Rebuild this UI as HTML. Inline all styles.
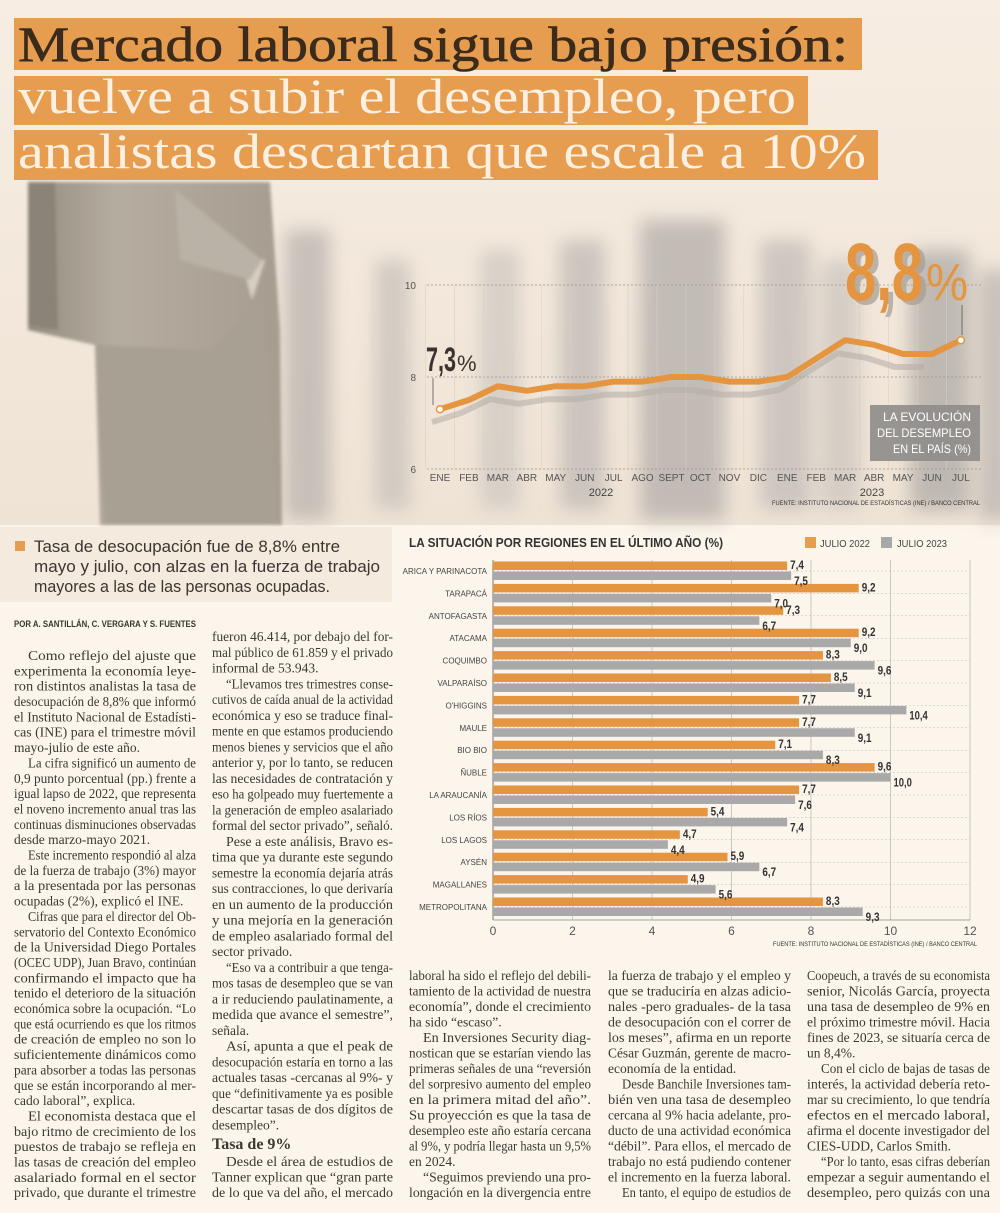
<!DOCTYPE html>
<html><head><meta charset="utf-8"><style>
html,body{margin:0;padding:0;background:#fbf5ec;}
svg{display:block;}
.b{font-family:"Liberation Serif",serif;font-size:13.5px;fill:#3d3833;}
.n{font-family:"Liberation Sans Narrow","Liberation Sans",sans-serif;}
</style></head><body>
<svg id="page" width="1000" height="1213" viewBox="0 0 1000 1213" xmlns="http://www.w3.org/2000/svg">
<defs>
<filter id="blur" x="-20%" y="-20%" width="140%" height="140%"><feGaussianBlur stdDeviation="9"/></filter>
<filter id="soft" x="-5%" y="-5%" width="110%" height="110%"><feGaussianBlur stdDeviation="1.5"/></filter>
<linearGradient id="bg" x1="0" y1="0" x2="0" y2="1"><stop offset="0" stop-color="#f7ede2"/><stop offset="1" stop-color="#efe3d5"/></linearGradient>
<linearGradient id="suit" x1="0" y1="0" x2="1" y2="0"><stop offset="0" stop-color="#948c80"/><stop offset="0.35" stop-color="#b5ad9f"/><stop offset="1" stop-color="#a69d90"/></linearGradient>
</defs>
<g>
<rect x="0" y="0" width="1000" height="525" fill="url(#bg)"/>
<g filter="url(#blur)" opacity="0.75">
<rect x="285" y="230" width="45" height="290" fill="#b9b3ae"/>
<rect x="375" y="260" width="35" height="250" fill="#c8c2bc"/>
<rect x="480" y="250" width="40" height="260" fill="#cfc9c3"/>
<rect x="560" y="240" width="45" height="270" fill="#bfbab5"/>
<rect x="640" y="220" width="85" height="300" fill="#b3aeaa"/>
<rect x="760" y="240" width="50" height="270" fill="#c1bcb7"/>
<rect x="820" y="260" width="40" height="250" fill="#ccc6c0"/>
<rect x="910" y="250" width="60" height="260" fill="#aeaaa6"/>
<rect x="980" y="270" width="30" height="250" fill="#b7b2ad"/>
</g>
<g filter="url(#soft)">
<path d="M28 182 L270 182 L280 330 L282 525 L100 525 L95 345 L28 330 Z" fill="url(#suit)"/>
<path d="M28 182 L55 182 L58 330 L28 325 Z" fill="#8a8377"/>
<path d="M95 345 L210 350 L230 330 L262 300 L278 525 L105 525 Z" fill="#a8a093"/>
<path d="M240 255 L265 260 L252 300 Z" fill="#d8cfc2"/>
<path d="M175 190 L262 260 L250 280 L180 260 Z" fill="#b9b2a6"/>
</g>
</g>
<g font-family="Liberation Serif, serif" font-size="50">
<rect x="14" y="18" width="848" height="52" fill="#e79d4f"/>
<rect x="14" y="76" width="794" height="49" fill="#e79d4f"/>
<rect x="14" y="130" width="864" height="50" fill="#e79d4f"/>
<text x="18" y="61" textLength="830" lengthAdjust="spacingAndGlyphs" fill="#3b2b1c" stroke="#3b2b1c" stroke-width="0.6">Mercado laboral sigue bajo presión:</text>
<text x="18" y="113" textLength="778" lengthAdjust="spacingAndGlyphs" fill="#fbf0e2">vuelve a subir el desempleo, pero</text>
<text x="18" y="168" textLength="848" lengthAdjust="spacingAndGlyphs" fill="#fbf0e2">analistas descartan que escale a 10%</text>
</g>
<g id="lineChart">
<g id="lcGrid"></g>
<g id="lcLines"></g>
<g id="lcLabels" class="n" font-size="10" fill="#555"></g>
<text x="601" y="496" class="n" font-size="11" fill="#444" text-anchor="middle">2022</text>
<text x="872" y="496" class="n" font-size="11" fill="#444" text-anchor="middle">2023</text>
<text x="980" y="505" class="n" font-size="6" fill="#333" text-anchor="end" textLength="208" lengthAdjust="spacingAndGlyphs">FUENTE: INSTITUTO NACIONAL DE ESTADÍSTICAS (INE) / BANCO CENTRAL</text>
<g>
<text x="426" y="371" class="n" font-size="34" font-weight="bold" fill="#3a3330" textLength="30" lengthAdjust="spacingAndGlyphs">7,3</text>
<text x="457" y="371" class="n" font-size="22" fill="#3a3330">%</text>
<line x1="433" y1="378" x2="433" y2="405" stroke="#555" stroke-width="0.8"/>
</g>
<g>
<text x="850" y="304" class="n" font-size="82" font-weight="bold" fill="#a59d93" opacity="0.7" textLength="78" lengthAdjust="spacingAndGlyphs">8,8</text>
<text x="845" y="300" class="n" font-size="82" font-weight="bold" fill="#e5953f" textLength="78" lengthAdjust="spacingAndGlyphs">8,8</text>
<text x="926" y="300" class="n" font-size="52" fill="#e5953f" textLength="42" lengthAdjust="spacingAndGlyphs">%</text>
<line x1="962" y1="305" x2="962" y2="335" stroke="#555" stroke-width="0.8"/>
</g>
<g>
<rect x="870" y="405" width="110" height="56" fill="#8e8c8a" opacity="0.9"/>
<text x="971" y="421" class="n" font-size="12" fill="#fff" text-anchor="end" textLength="88" lengthAdjust="spacingAndGlyphs">LA EVOLUCIÓN</text>
<text x="971" y="437" class="n" font-size="12" fill="#fff" text-anchor="end" textLength="94" lengthAdjust="spacingAndGlyphs">DEL DESEMPLEO</text>
<text x="971" y="453" class="n" font-size="12" fill="#fff" text-anchor="end" textLength="78" lengthAdjust="spacingAndGlyphs">EN EL PAÍS (%)</text>
</g>
</g>
<g>
<rect x="0" y="527" width="392" height="75" fill="#f4eadd"/>
<rect x="15" y="541" width="10" height="10" fill="#e79d4f"/>
<g font-family="Liberation Sans, sans-serif" font-size="16.5" fill="#3b3632">
<text x="34" y="552" textLength="306" lengthAdjust="spacingAndGlyphs">Tasa de desocupación fue de 8,8% entre</text>
<text x="34" y="572" textLength="346" lengthAdjust="spacingAndGlyphs">mayo y julio, con alzas en la fuerza de trabajo</text>
<text x="34" y="592" textLength="296" lengthAdjust="spacingAndGlyphs">mayores a las de las personas ocupadas.</text>
</g>
</g>
<text x="14" y="627" class="n" font-size="9" font-weight="bold" fill="#3b3632" textLength="182" lengthAdjust="spacingAndGlyphs">POR A. SANTILLÁN, C. VERGARA Y S. FUENTES</text>
<g id="barChart">
<text x="409" y="547" class="n" font-size="12.5" font-weight="bold" fill="#333" textLength="314" lengthAdjust="spacingAndGlyphs">LA SITUACIÓN POR REGIONES EN EL ÚLTIMO AÑO (%)</text>
<g><rect x="805" y="537" width="11" height="11" fill="#e79d4f"/><text x="820" y="547" class="n" font-size="10.5" fill="#444" textLength="50" lengthAdjust="spacingAndGlyphs">JULIO 2022</text></g>
<g><rect x="881" y="537" width="11" height="11" fill="#a8a8a8"/><text x="897" y="547" class="n" font-size="10.5" fill="#444" textLength="50" lengthAdjust="spacingAndGlyphs">JULIO 2023</text></g>
<g id="bcGrid"></g>
<g id="bcBars"></g>
<g id="bcLabels"></g>
<text x="977" y="946" class="n" font-size="6" fill="#333" text-anchor="end" textLength="204" lengthAdjust="spacingAndGlyphs">FUENTE: INSTITUTO NACIONAL DE ESTADÍSTICAS (INE) / BANCO CENTRAL</text>
</g>
<g class="b">
<text x="28" y="660" textLength="168" lengthAdjust="spacingAndGlyphs">Como reflejo del ajuste que</text>
<text x="14" y="675.3" textLength="182" lengthAdjust="spacingAndGlyphs">experimenta la economía leye-</text>
<text x="14" y="690.7" textLength="182" lengthAdjust="spacingAndGlyphs">ron distintos analistas la tasa de</text>
<text x="14" y="706" textLength="182" lengthAdjust="spacingAndGlyphs">desocupación de 8,8% que informó</text>
<text x="14" y="721.4" textLength="182" lengthAdjust="spacingAndGlyphs">el Instituto Nacional de Estadísti-</text>
<text x="14" y="736.7" textLength="182" lengthAdjust="spacingAndGlyphs">cas (INE) para el trimestre móvil</text>
<text x="14" y="752.1">mayo-julio de este año.</text>
<text x="28" y="767.4" textLength="168" lengthAdjust="spacingAndGlyphs">La cifra significó un aumento de</text>
<text x="14" y="782.8" textLength="182" lengthAdjust="spacingAndGlyphs">0,9 punto porcentual (pp.) frente a</text>
<text x="14" y="798.1" textLength="182" lengthAdjust="spacingAndGlyphs">igual lapso de 2022, que representa</text>
<text x="14" y="813.5" textLength="182" lengthAdjust="spacingAndGlyphs">el noveno incremento anual tras las</text>
<text x="14" y="828.8" textLength="182" lengthAdjust="spacingAndGlyphs">continuas disminuciones observadas</text>
<text x="14" y="844.2">desde marzo-mayo 2021.</text>
<text x="28" y="859.5" textLength="168" lengthAdjust="spacingAndGlyphs">Este incremento respondió al alza</text>
<text x="14" y="874.9" textLength="182" lengthAdjust="spacingAndGlyphs">de la fuerza de trabajo (3%) mayor</text>
<text x="14" y="890.2" textLength="182" lengthAdjust="spacingAndGlyphs">a la presentada por las personas</text>
<text x="14" y="905.6">ocupadas (2%), explicó el INE.</text>
<text x="28" y="920.9" textLength="168" lengthAdjust="spacingAndGlyphs">Cifras que para el director del Ob-</text>
<text x="14" y="936.3" textLength="182" lengthAdjust="spacingAndGlyphs">servatorio del Contexto Económico</text>
<text x="14" y="951.6" textLength="182" lengthAdjust="spacingAndGlyphs">de la Universidad Diego Portales</text>
<text x="14" y="967" textLength="182" lengthAdjust="spacingAndGlyphs">(OCEC UDP), Juan Bravo, continúan</text>
<text x="14" y="982.3" textLength="182" lengthAdjust="spacingAndGlyphs">confirmando el impacto que ha</text>
<text x="14" y="997.7" textLength="182" lengthAdjust="spacingAndGlyphs">tenido el deterioro de la situación</text>
<text x="14" y="1013" textLength="182" lengthAdjust="spacingAndGlyphs">económica sobre la ocupación. “Lo</text>
<text x="14" y="1028.4" textLength="182" lengthAdjust="spacingAndGlyphs">que está ocurriendo es que los ritmos</text>
<text x="14" y="1043.7" textLength="182" lengthAdjust="spacingAndGlyphs">de creación de empleo no son lo</text>
<text x="14" y="1059.1" textLength="182" lengthAdjust="spacingAndGlyphs">suficientemente dinámicos como</text>
<text x="14" y="1074.4" textLength="182" lengthAdjust="spacingAndGlyphs">para absorber a todas las personas</text>
<text x="14" y="1089.8" textLength="182" lengthAdjust="spacingAndGlyphs">que se están incorporando al mer-</text>
<text x="14" y="1105.1">cado laboral”, explica.</text>
<text x="28" y="1120.5" textLength="168" lengthAdjust="spacingAndGlyphs">El economista destaca que el</text>
<text x="14" y="1135.8" textLength="182" lengthAdjust="spacingAndGlyphs">bajo ritmo de crecimiento de los</text>
<text x="14" y="1151.2" textLength="182" lengthAdjust="spacingAndGlyphs">puestos de trabajo se refleja en</text>
<text x="14" y="1166.5" textLength="182" lengthAdjust="spacingAndGlyphs">las tasas de creación del empleo</text>
<text x="14" y="1181.9" textLength="182" lengthAdjust="spacingAndGlyphs">asalariado formal en el sector</text>
<text x="14" y="1197.2" textLength="182" lengthAdjust="spacingAndGlyphs">privado, que durante el trimestre</text>
</g>
<g class="b">
<text x="212" y="641" textLength="181" lengthAdjust="spacingAndGlyphs">fueron 46.414, por debajo del for-</text>
<text x="212" y="656.8" textLength="181" lengthAdjust="spacingAndGlyphs">mal público de 61.859 y el privado</text>
<text x="212" y="672.5">informal de 53.943.</text>
<text x="226" y="688.3" textLength="167" lengthAdjust="spacingAndGlyphs">“Llevamos tres trimestres conse-</text>
<text x="212" y="704" textLength="181" lengthAdjust="spacingAndGlyphs">cutivos de caída anual de la actividad</text>
<text x="212" y="719.8" textLength="181" lengthAdjust="spacingAndGlyphs">económica y eso se traduce final-</text>
<text x="212" y="735.5" textLength="181" lengthAdjust="spacingAndGlyphs">mente en que estamos produciendo</text>
<text x="212" y="751.3" textLength="181" lengthAdjust="spacingAndGlyphs">menos bienes y servicios que el año</text>
<text x="212" y="767" textLength="181" lengthAdjust="spacingAndGlyphs">anterior y, por lo tanto, se reducen</text>
<text x="212" y="782.8" textLength="181" lengthAdjust="spacingAndGlyphs">las necesidades de contratación y</text>
<text x="212" y="798.5" textLength="181" lengthAdjust="spacingAndGlyphs">eso ha golpeado muy fuertemente a</text>
<text x="212" y="814.3" textLength="181" lengthAdjust="spacingAndGlyphs">la generación de empleo asalariado</text>
<text x="212" y="830" textLength="181" lengthAdjust="spacingAndGlyphs">formal del sector privado”, señaló.</text>
<text x="226" y="845.8" textLength="167" lengthAdjust="spacingAndGlyphs">Pese a este análisis, Bravo es-</text>
<text x="212" y="861.5" textLength="181" lengthAdjust="spacingAndGlyphs">tima que ya durante este segundo</text>
<text x="212" y="877.3" textLength="181" lengthAdjust="spacingAndGlyphs">semestre la economía dejaría atrás</text>
<text x="212" y="893" textLength="181" lengthAdjust="spacingAndGlyphs">sus contracciones, lo que derivaría</text>
<text x="212" y="908.8" textLength="181" lengthAdjust="spacingAndGlyphs">en un aumento de la producción</text>
<text x="212" y="924.5" textLength="181" lengthAdjust="spacingAndGlyphs">y una mejoría en la generación</text>
<text x="212" y="940.3" textLength="181" lengthAdjust="spacingAndGlyphs">de empleo asalariado formal del</text>
<text x="212" y="956">sector privado.</text>
<text x="226" y="971.8" textLength="167" lengthAdjust="spacingAndGlyphs">“Eso va a contribuir a que tenga-</text>
<text x="212" y="987.5" textLength="181" lengthAdjust="spacingAndGlyphs">mos tasas de desempleo que se van</text>
<text x="212" y="1003.3" textLength="181" lengthAdjust="spacingAndGlyphs">a ir reduciendo paulatinamente, a</text>
<text x="212" y="1019" textLength="181" lengthAdjust="spacingAndGlyphs">medida que avance el semestre”,</text>
<text x="212" y="1034.8">señala.</text>
<text x="226" y="1050.5" textLength="167" lengthAdjust="spacingAndGlyphs">Así, apunta a que el peak de</text>
<text x="212" y="1066.3" textLength="181" lengthAdjust="spacingAndGlyphs">desocupación estaría en torno a las</text>
<text x="212" y="1082" textLength="181" lengthAdjust="spacingAndGlyphs">actuales tasas -cercanas al 9%- y</text>
<text x="212" y="1097.8" textLength="181" lengthAdjust="spacingAndGlyphs">que “definitivamente ya es posible</text>
<text x="212" y="1113.5" textLength="181" lengthAdjust="spacingAndGlyphs">descartar tasas de dos dígitos de</text>
<text x="212" y="1129.3">desempleo”.</text>
<text x="212" y="1149" font-size="16" font-weight="bold">Tasa de 9%</text>
<text x="226" y="1166" textLength="167" lengthAdjust="spacingAndGlyphs">Desde el área de estudios de</text>
<text x="212" y="1181.5" textLength="181" lengthAdjust="spacingAndGlyphs">Tanner explican que “gran parte</text>
<text x="212" y="1197" textLength="181" lengthAdjust="spacingAndGlyphs">de lo que va del año, el mercado</text>
</g>
<g class="b">
<text x="409" y="980" textLength="182" lengthAdjust="spacingAndGlyphs">laboral ha sido el reflejo del debili-</text>
<text x="409" y="995.5" textLength="182" lengthAdjust="spacingAndGlyphs">tamiento de la actividad de nuestra</text>
<text x="409" y="1011" textLength="182" lengthAdjust="spacingAndGlyphs">economía”, donde el crecimiento</text>
<text x="409" y="1026.5">ha sido “escaso”.</text>
<text x="423" y="1042" textLength="168" lengthAdjust="spacingAndGlyphs">En Inversiones Security diag-</text>
<text x="409" y="1057.5" textLength="182" lengthAdjust="spacingAndGlyphs">nostican que se estarían viendo las</text>
<text x="409" y="1073" textLength="182" lengthAdjust="spacingAndGlyphs">primeras señales de una “reversión</text>
<text x="409" y="1088.5" textLength="182" lengthAdjust="spacingAndGlyphs">del sorpresivo aumento del empleo</text>
<text x="409" y="1104" textLength="182" lengthAdjust="spacingAndGlyphs">en la primera mitad del año”.</text>
<text x="409" y="1119.5" textLength="182" lengthAdjust="spacingAndGlyphs">Su proyección es que la tasa de</text>
<text x="409" y="1135" textLength="182" lengthAdjust="spacingAndGlyphs">desempleo este año estaría cercana</text>
<text x="409" y="1150.5" textLength="182" lengthAdjust="spacingAndGlyphs">al 9%, y podría llegar hasta un 9,5%</text>
<text x="409" y="1166">en 2024.</text>
<text x="423" y="1181.5" textLength="168" lengthAdjust="spacingAndGlyphs">“Seguimos previendo una pro-</text>
<text x="409" y="1197" textLength="182" lengthAdjust="spacingAndGlyphs">longación en la divergencia entre</text>
</g>
<g class="b">
<text x="608" y="980" textLength="183" lengthAdjust="spacingAndGlyphs">la fuerza de trabajo y el empleo y</text>
<text x="608" y="995.5" textLength="183" lengthAdjust="spacingAndGlyphs">que se traduciría en alzas adicio-</text>
<text x="608" y="1011" textLength="183" lengthAdjust="spacingAndGlyphs">nales -pero graduales- de la tasa</text>
<text x="608" y="1026.5" textLength="183" lengthAdjust="spacingAndGlyphs">de desocupación con el correr de</text>
<text x="608" y="1042" textLength="183" lengthAdjust="spacingAndGlyphs">los meses”, afirma en un reporte</text>
<text x="608" y="1057.5" textLength="183" lengthAdjust="spacingAndGlyphs">César Guzmán, gerente de macro-</text>
<text x="608" y="1073">economía de la entidad.</text>
<text x="622" y="1088.5" textLength="169" lengthAdjust="spacingAndGlyphs">Desde Banchile Inversiones tam-</text>
<text x="608" y="1104" textLength="183" lengthAdjust="spacingAndGlyphs">bién ven una tasa de desempleo</text>
<text x="608" y="1119.5" textLength="183" lengthAdjust="spacingAndGlyphs">cercana al 9% hacia adelante, pro-</text>
<text x="608" y="1135" textLength="183" lengthAdjust="spacingAndGlyphs">ducto de una actividad económica</text>
<text x="608" y="1150.5" textLength="183" lengthAdjust="spacingAndGlyphs">“débil”. Para ellos, el mercado de</text>
<text x="608" y="1166" textLength="183" lengthAdjust="spacingAndGlyphs">trabajo no está pudiendo contener</text>
<text x="608" y="1181.5" textLength="183" lengthAdjust="spacingAndGlyphs">el incremento en la fuerza laboral.</text>
<text x="622" y="1197" textLength="169" lengthAdjust="spacingAndGlyphs">En tanto, el equipo de estudios de</text>
</g>
<g class="b">
<text x="807" y="980" textLength="183" lengthAdjust="spacingAndGlyphs">Coopeuch, a través de su economista</text>
<text x="807" y="995.5" textLength="183" lengthAdjust="spacingAndGlyphs">senior, Nicolás García, proyecta</text>
<text x="807" y="1011" textLength="183" lengthAdjust="spacingAndGlyphs">una tasa de desempleo de 9% en</text>
<text x="807" y="1026.5" textLength="183" lengthAdjust="spacingAndGlyphs">el próximo trimestre móvil. Hacia</text>
<text x="807" y="1042" textLength="183" lengthAdjust="spacingAndGlyphs">fines de 2023, se situaría cerca de</text>
<text x="807" y="1057.5">un 8,4%.</text>
<text x="821" y="1073" textLength="169" lengthAdjust="spacingAndGlyphs">Con el ciclo de bajas de tasas de</text>
<text x="807" y="1088.5" textLength="183" lengthAdjust="spacingAndGlyphs">interés, la actividad debería reto-</text>
<text x="807" y="1104" textLength="183" lengthAdjust="spacingAndGlyphs">mar su crecimiento, lo que tendría</text>
<text x="807" y="1119.5" textLength="183" lengthAdjust="spacingAndGlyphs">efectos en el mercado laboral,</text>
<text x="807" y="1135" textLength="183" lengthAdjust="spacingAndGlyphs">afirma el docente investigador del</text>
<text x="807" y="1150.5">CIES-UDD, Carlos Smith.</text>
<text x="821" y="1166" textLength="169" lengthAdjust="spacingAndGlyphs">“Por lo tanto, esas cifras deberían</text>
<text x="807" y="1181.5" textLength="183" lengthAdjust="spacingAndGlyphs">empezar a seguir aumentando el</text>
<text x="807" y="1197" textLength="183" lengthAdjust="spacingAndGlyphs">desempleo, pero quizás con una</text>
</g>
</svg>
<script>
const NS = "http://www.w3.org/2000/svg";
// line chart data
const months = ["ENE","FEB","MAR","ABR","MAY","JUN","JUL","AGO","SEPT","OCT","NOV","DIC","ENE","FEB","MAR","ABR","MAY","JUN","JUL"];
const rates = [7.3,7.5,7.8,7.7,7.8,7.8,7.9,7.9,8.0,8.0,7.9,7.9,8.0,8.4,8.8,8.7,8.5,8.5,8.8];
const yTicks = [10,8,6];
// bar chart data
const regions = ["ARICA Y PARINACOTA","TARAPACÁ","ANTOFAGASTA","ATACAMA","COQUIMBO","VALPARAÍSO","O'HIGGINS","MAULE","BIO BIO","ÑUBLE","LA ARAUCANÍA","LOS RÍOS","LOS LAGOS","AYSÉN","MAGALLANES","METROPOLITANA"];
const julio2022 = [7.4,9.2,7.3,9.2,8.3,8.5,7.7,7.7,7.1,9.6,7.7,5.4,4.7,5.9,4.9,8.3];
const julio2023 = [7.5,7.0,6.7,9.0,9.6,9.1,10.4,9.1,8.3,10.0,7.6,7.4,4.4,6.7,5.6,9.3];
const xTicks = [0,2,4,6,8,10,12];

function mk(tag, attrs, parent){ const e=document.createElementNS(NS,tag); for(const k in attrs) e.setAttribute(k,attrs[k]); parent.appendChild(e); return e; }
const fmt = v => v.toFixed(1).replace('.',',');

const lx = i => 440 + i*28.94;
const ly = v => 377 - (v-8)*46;
const lg = document.getElementById('lcGrid'), ll = document.getElementById('lcLines'), lb = document.getElementById('lcLabels');
yTicks.forEach(t=>{
  const ln = mk('line',{x1:427,x2:982,y1:ly(t),y2:ly(t),stroke:'#9a948c','stroke-width':0.7,'stroke-dasharray':'2,2'},lg);
  
  
  const tx = mk('text',{x:416,y:ly(t)+4,'text-anchor':'end','font-size':10},lb);
  tx.textContent = t;
  
  
});
months.forEach((m,i)=>{
  const vl = mk('line',{x1:lx(i)-14.5,x2:lx(i)-14.5,y1:ly(10),y2:ly(6),stroke:'#d8cfc4','stroke-width':0.6},lg);
  
  
  const tx = mk('text',{x:lx(i),y:481,'text-anchor':'middle'},lb);
  tx.textContent = m;
  
  
});
const shadowPts = rates.slice(0,18).map((v,i)=>(lx(i)-8)+','+(ly(v)+13)).join(' ');
const sh = mk('polyline',{points:shadowPts,fill:'none',stroke:'#b3ada6','stroke-width':6,opacity:0.55,'stroke-linejoin':'round'},ll);


const pts = rates.map((v,i)=>lx(i)+','+ly(v)).join(' ');
const pl = mk('polyline',{points:pts,fill:'none',stroke:'#e5953f','stroke-width':6,'stroke-linejoin':'round'},ll);


[0, rates.length-1].forEach(i=>{
  const c = mk('circle',{cx:lx(i),cy:ly(rates[i]),r:3.5,fill:'#fff',stroke:'#e5953f','stroke-width':1.5},ll);
  
  
});

const bx = v => 493 + v*39.75;
const rowY = i => 571 + i*22.4;
const bg = document.getElementById('bcGrid'), bb = document.getElementById('bcBars'), bl = document.getElementById('bcLabels');
xTicks.forEach(t=>{
  const gl = mk('line',{x1:bx(t),x2:bx(t),y1:560,y2:920,stroke:t===0?'#777':'#aaa','stroke-width':t===0?1:0.6},bg);
  
  
  const tx = mk('text',{x:bx(t),y:935,'text-anchor':'middle','font-size':12,fill:'#555',class:'n'},bl);
  tx.textContent = t;
  
  
});
mk('line',{x1:493,x2:970,y1:920,y2:920,stroke:'#888','stroke-width':0.8},bg);
regions.forEach((r,i)=>{
  const y = rowY(i);
  const hl = mk('line',{x1:493,x2:970,y1:y,y2:y,stroke:'#bbb','stroke-width':0.5,'stroke-dasharray':'2,2'},bg);
  
  
  const lab = mk('text',{x:487,y:y+3,'text-anchor':'end','font-size':8,fill:'#444',class:'n'},bl);
  lab.textContent = r;
  
  
  const a = mk('rect',{x:493,y:y-9.5,width:bx(julio2022[i])-493,height:8.5,fill:'#e5953f'},bb);
  
  
  const b = mk('rect',{x:493,y:y+0.5,width:bx(julio2023[i])-493,height:8.5,fill:'#a9a9a9'},bb);
  
  
  const sa = fmt(julio2022[i]), sb = fmt(julio2023[i]);
  const va = mk('text',{x:bx(julio2022[i])+3,y:y-2,'font-size':12,'font-weight':'bold',fill:'#333',class:'n',textLength:sa.length*4.6,lengthAdjust:'spacingAndGlyphs'},bl);
  va.textContent = sa;
  
  
  const vb = mk('text',{x:bx(julio2023[i])+3,y:y+14,'font-size':12,'font-weight':'bold',fill:'#333',class:'n',textLength:sb.length*4.6,lengthAdjust:'spacingAndGlyphs'},bl);
  vb.textContent = sb;
  
  
});
</script>
</body></html>
